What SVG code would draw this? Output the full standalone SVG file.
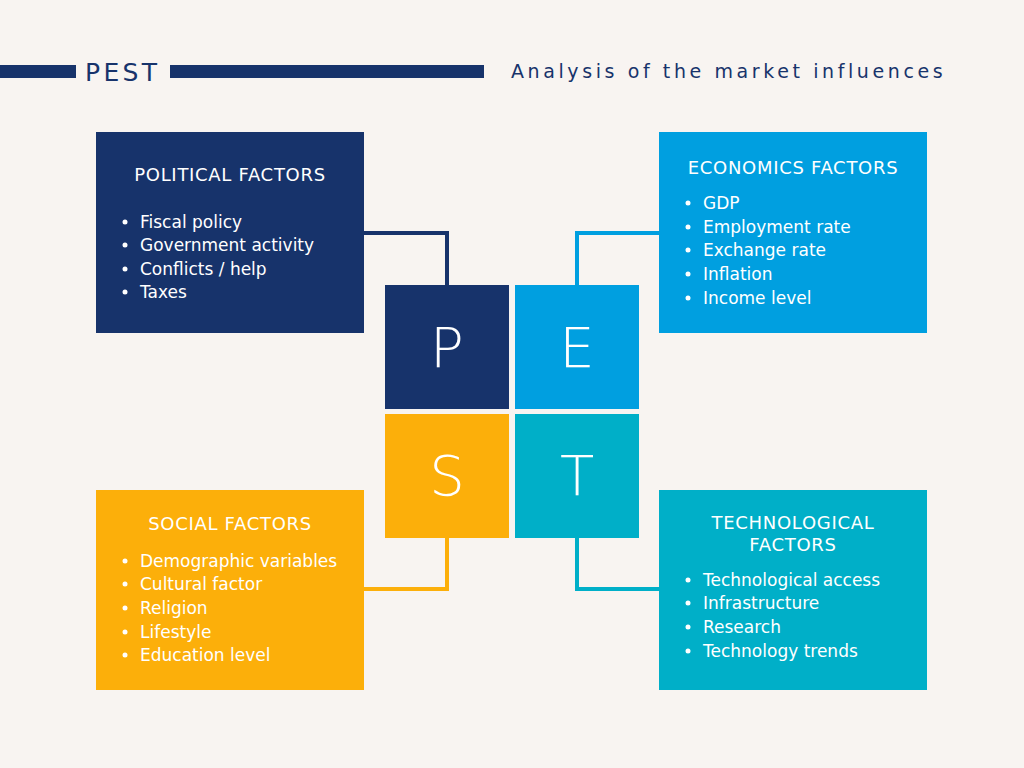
<svg xmlns="http://www.w3.org/2000/svg" width="1024" height="768" viewBox="0 0 1024 768">
<style>
.t{font-family:"DejaVu Sans","Liberation Sans",sans-serif;fill:#ffffff;font-weight:400}
.title{font-size:18px;text-anchor:middle;letter-spacing:0.7px}
.item{font-size:17px}
.big{font-family:"DejaVu Sans","Liberation Sans",sans-serif;font-size:56px;fill:#ffffff;text-anchor:middle;font-weight:200}
.c{fill:none;stroke-width:4}
</style>
<rect width="1024" height="768" fill="#f8f4f1"/>
<g id="header">
<rect x="0" y="65" width="76" height="13" fill="#17336b"/>
<rect x="170" y="65" width="314" height="13" fill="#17336b"/>
<text x="85" y="81" font-family="DejaVu Sans,sans-serif" font-size="25" fill="#17336b" letter-spacing="3.3">PEST</text>
<text x="511" y="78" font-family="DejaVu Sans,sans-serif" font-size="19" fill="#17336b" letter-spacing="3.6">Analysis of the market influences</text>
</g>
<g id="connectors">
<polyline class="c" stroke="#17336b" points="364,233 447,233 447,285"/>
<polyline class="c" stroke="#009fe0" points="659,233 577,233 577,285"/>
<polyline class="c" stroke="#fcaf0a" points="364,589 447,589 447,538"/>
<polyline class="c" stroke="#00afc8" points="659,589 577,589 577,538"/>
</g>
<g id="political">
<rect x="96" y="132" width="268" height="201" fill="#17336b"/>
<text class="t title" x="230" y="181">POLITICAL FACTORS</text>
<g class="t item">
<circle cx="125" cy="222" r="2.5" fill="#fff"/><text x="140" y="228">Fiscal policy</text>
<circle cx="125" cy="245" r="2.5" fill="#fff"/><text x="140" y="251">Government activity</text>
<circle cx="125" cy="269" r="2.5" fill="#fff"/><text x="140" y="275">Conflicts / help</text>
<circle cx="125" cy="292" r="2.5" fill="#fff"/><text x="140" y="298">Taxes</text>
</g>
</g>
<g id="economics">
<rect x="659" y="132" width="268" height="201" fill="#009fe0"/>
<text class="t title" x="793" y="174">ECONOMICS FACTORS</text>
<g class="t item">
<circle cx="688" cy="203" r="2.5" fill="#fff"/><text x="703" y="209">GDP</text>
<circle cx="688" cy="227" r="2.5" fill="#fff"/><text x="703" y="233">Employment rate</text>
<circle cx="688" cy="250" r="2.5" fill="#fff"/><text x="703" y="256">Exchange rate</text>
<circle cx="688" cy="274" r="2.5" fill="#fff"/><text x="703" y="280">Inflation</text>
<circle cx="688" cy="298" r="2.5" fill="#fff"/><text x="703" y="304">Income level</text>
</g>
</g>
<g id="social">
<rect x="96" y="490" width="268" height="200" fill="#fcaf0a"/>
<text class="t title" x="230" y="530">SOCIAL FACTORS</text>
<g class="t item">
<circle cx="125" cy="561" r="2.5" fill="#fff"/><text x="140" y="567">Demographic variables</text>
<circle cx="125" cy="584" r="2.5" fill="#fff"/><text x="140" y="590">Cultural factor</text>
<circle cx="125" cy="608" r="2.5" fill="#fff"/><text x="140" y="614">Religion</text>
<circle cx="125" cy="632" r="2.5" fill="#fff"/><text x="140" y="638">Lifestyle</text>
<circle cx="125" cy="655" r="2.5" fill="#fff"/><text x="140" y="661">Education level</text>
</g>
</g>
<g id="technological">
<rect x="659" y="490" width="268" height="200" fill="#00afc8"/>
<text class="t title" x="793" y="529">TECHNOLOGICAL</text>
<text class="t title" x="793" y="551">FACTORS</text>
<g class="t item">
<circle cx="688" cy="580" r="2.5" fill="#fff"/><text x="703" y="586">Technological access</text>
<circle cx="688" cy="603" r="2.5" fill="#fff"/><text x="703" y="609">Infrastructure</text>
<circle cx="688" cy="627" r="2.5" fill="#fff"/><text x="703" y="633">Research</text>
<circle cx="688" cy="651" r="2.5" fill="#fff"/><text x="703" y="657">Technology trends</text>
</g>
</g>
<g id="P"><rect x="385" y="285" width="124" height="124" fill="#17336b"/><text class="big" x="447" y="367">P</text></g>
<g id="E"><rect x="515" y="285" width="124" height="124" fill="#009fe0"/><text class="big" x="577" y="367">E</text></g>
<g id="S"><rect x="385" y="414" width="124" height="124" fill="#fcaf0a"/><text class="big" x="447" y="495">S</text></g>
<g id="T"><rect x="515" y="414" width="124" height="124" fill="#00afc8"/><text class="big" x="577" y="495">T</text></g>
</svg>
